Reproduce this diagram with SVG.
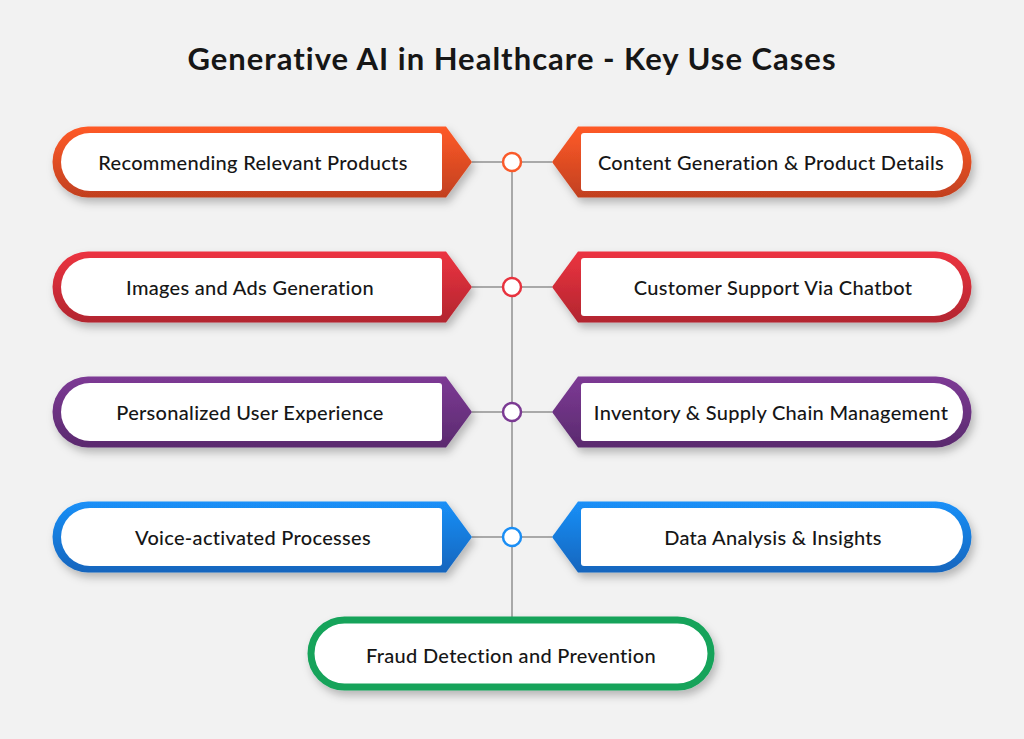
<svg xmlns="http://www.w3.org/2000/svg" width="1024" height="739" viewBox="0 0 1024 739">
<defs>
<style>
text{font-family:"Lato","Noto Sans",sans-serif;fill:#161616;text-anchor:middle;dominant-baseline:central}
.t{font-size:20px;font-weight:500;letter-spacing:0.3px}
.w{fill:#fff}
.ln{stroke:#a9a9a9;stroke-width:2;fill:none}
.c{fill:#fff;stroke-width:2.5}
</style>
<filter id="sh" x="-10%" y="-20%" width="125%" height="150%"><feDropShadow dx="3" dy="5" stdDeviation="4" flood-color="#000" flood-opacity="0.25"/></filter>
<linearGradient id="g1" x1="0" y1="0" x2="0" y2="1"><stop offset="0" stop-color="#ff5a28"/><stop offset="1" stop-color="#c1401f"/></linearGradient>
<linearGradient id="g2" x1="0" y1="0" x2="0" y2="1"><stop offset="0" stop-color="#ec3340"/><stop offset="1" stop-color="#b2262f"/></linearGradient>
<linearGradient id="g3" x1="0" y1="0" x2="0" y2="1"><stop offset="0" stop-color="#7d3a95"/><stop offset="1" stop-color="#5a2a6e"/></linearGradient>
<linearGradient id="g4" x1="0" y1="0" x2="0" y2="1"><stop offset="0" stop-color="#1a90f8"/><stop offset="1" stop-color="#1565bd"/></linearGradient>
<path id="L" d="M88,-35.5 H446 L472,0 L446,35.5 H88 A35.5,35.5 0 0 1 88,-35.5 Z"/>
<path id="LI" d="M90,-29 H439 A3,3 0 0 1 442,-26 V26 A3,3 0 0 1 439,29 H90 A29,29 0 0 1 90,-29 Z"/>
<path id="R" d="M936,-35.5 H578 L552,0 L578,35.5 H936 A35.5,35.5 0 0 0 936,-35.5 Z"/>
<path id="RI" d="M934,-29 H584 A3,3 0 0 0 581,-26 V26 A3,3 0 0 0 584,29 H934 A29,29 0 0 0 934,-29 Z"/>
</defs>
<rect width="1024" height="739" fill="#f2f2f2"/>
<text x="512" y="58" style="font-size:31px;font-weight:700;letter-spacing:1px">Generative AI in Healthcare - Key Use Cases</text>
<g id="connectors">
<path class="ln" d="M512,162 V620"/>
<path class="ln" d="M472,162 H552 M472,287 H552 M472,412 H552 M472,537 H552"/>
<circle class="c" cx="512" cy="162" r="9" stroke="#fa5a2a"/>
<circle class="c" cx="512" cy="287" r="9" stroke="#e8323e"/>
<circle class="c" cx="512" cy="412" r="9" stroke="#7b3a93"/>
<circle class="c" cx="512" cy="537" r="9" stroke="#1a8ef5"/>
</g>
<g id="n1" transform="translate(0,162)"><use href="#L" fill="url(#g1)" filter="url(#sh)"/><use href="#LI" class="w"/><text class="t" x="253" y="0">Recommending Relevant Products</text></g>
<g id="n2" transform="translate(0,162)"><use href="#R" fill="url(#g1)" filter="url(#sh)"/><use href="#RI" class="w"/><text class="t" x="771" y="0">Content Generation &amp; Product Details</text></g>
<g id="n3" transform="translate(0,287)"><use href="#L" fill="url(#g2)" filter="url(#sh)"/><use href="#LI" class="w"/><text class="t" x="250" y="0">Images and Ads Generation</text></g>
<g id="n4" transform="translate(0,287)"><use href="#R" fill="url(#g2)" filter="url(#sh)"/><use href="#RI" class="w"/><text class="t" x="773" y="0">Customer Support Via Chatbot</text></g>
<g id="n5" transform="translate(0,412)"><use href="#L" fill="url(#g3)" filter="url(#sh)"/><use href="#LI" class="w"/><text class="t" x="250" y="0">Personalized User Experience</text></g>
<g id="n6" transform="translate(0,412)"><use href="#R" fill="url(#g3)" filter="url(#sh)"/><use href="#RI" class="w"/><text class="t" x="771" y="0">Inventory &amp; Supply Chain Management</text></g>
<g id="n7" transform="translate(0,537)"><use href="#L" fill="url(#g4)" filter="url(#sh)"/><use href="#LI" class="w"/><text class="t" x="253" y="0">Voice-activated Processes</text></g>
<g id="n8" transform="translate(0,537)"><use href="#R" fill="url(#g4)" filter="url(#sh)"/><use href="#RI" class="w"/><text class="t" x="773" y="0">Data Analysis &amp; Insights</text></g>
<g id="n9"><rect x="311" y="620" width="400" height="67" rx="33.5" fill="#fff" stroke="#14a35a" stroke-width="7" filter="url(#sh)"/><text class="t" x="511" y="655">Fraud Detection and Prevention</text></g>
</svg>
